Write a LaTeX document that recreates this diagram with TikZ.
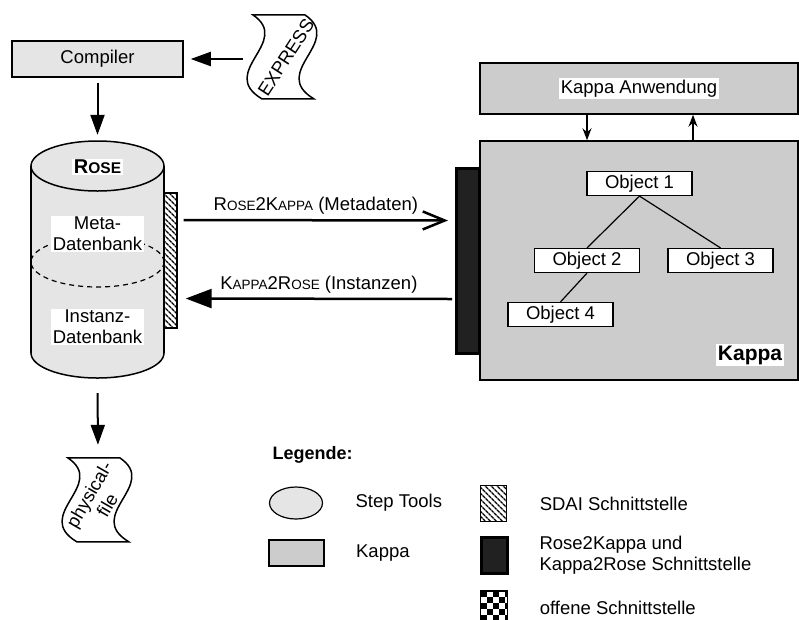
\documentclass[tikz,border=0pt]{standalone}
\usepackage{fontspec}
\setmainfont{Liberation Sans}
\usetikzlibrary{arrows.meta,shapes.geometric,positioning,patterns.meta}

\newcommand{\smallcap}[1]{{\fontsize{13.5}{14}\selectfont #1}}

\begin{document}
\begin{tikzpicture}[
  x=1pt, y=-1pt,
  font=\fontsize{18.5}{21}\selectfont,
  thinline/.style={line width=1.2pt},
  box/.style={rectangle, draw, line width=1.5pt, inner sep=0pt},
  compbox/.style={box, fill=gray!20},
  kbox/.style={box, fill=gray!40},
  hatch/.style={box, pattern={Lines[angle=-45, distance=4pt, line width=1.4pt]}},
  obj/.style={box, line width=1.2pt, fill=white, minimum width=105pt,
              minimum height=24pt},
  lbl/.style={fill=white, inner sep=1.5pt, align=center},
  cyl/.style={draw, line width=1.5pt, fill=gray!20},
  doc/.style={draw, line width=1.5pt, fill=white},
  arrow/.style={-{Triangle[length=20pt,width=14pt]}, line width=2pt},
  openarrow/.style={-{Straight Barb[length=22pt,width=18pt]}, line width=2.5pt},
  backarrow/.style={-{Triangle[length=26pt,width=19pt]}, line width=2.5pt},
  smallarrow/.style={-{Stealth[length=12pt,width=9pt,inset=4pt]}, thinline},
  wavedoc/.pic={
    \draw[doc] (0,0) -- (52,0) .. controls (92,27) and (16,57) .. (61,84)
      -- (9,84) .. controls (-36,57) and (40,27) .. cycle;
  }
]
\useasboundingbox (0,0) rectangle (799,619);

%% Compiler with EXPRESS input
\node[compbox, minimum width=171pt, minimum height=36pt] (comp) at (97.5,59) {Compiler};
\node[minimum width=70pt, minimum height=85pt, inner sep=0pt] (expr) at (283,57.5) {};
\pic at ([xshift=5pt]expr.north west) {wavedoc};
\node[rotate=57] at ([xshift=3pt]expr.center) {EXPRESS};
\draw[arrow, shorten <=5pt, shorten >=7pt] (expr.west |- comp.east) -- (comp.east);

%% ROSE database (cylinder)
\node[minimum width=133pt, minimum height=237pt, inner sep=0pt] (rose) at (97.5,259.5) {};
\filldraw[cyl] (97.5,353) ellipse [x radius=66.5, y radius=25];
\fill[gray!20] (31,166) rectangle (164,353);
\draw[line width=1.5pt] (31,166) -- (31,353) (164,166) -- (164,353);
\filldraw[cyl] (97.5,166) ellipse [x radius=66.5, y radius=25];
\draw[thinline, dash pattern=on 5pt off 4pt] (97.5,262) ellipse [x radius=66.5, y radius=25];

\node[lbl] at (97.5,167) {\textbf{\fontsize{20}{21}\selectfont R{\fontsize{15.5}{15}\selectfont OSE}}};
\node[lbl] (meta) at (97.5,234) {Meta-\\Datenbank};
\node[lbl] (inst) at (97.5,327) {Instanz-\\Datenbank};

\draw[arrow, shorten <=5pt, shorten >=6pt] (comp.south) -- (rose.north);

%% SDAI interface
\node[hatch, minimum width=13pt, minimum height=135pt] (sdai) at (170.5,260.5) {};

%% physical file output
\node[minimum width=70pt, minimum height=84pt, inner sep=0pt] (phys) at (98,500) {};
\pic at ([xshift=5pt]phys.north west) {wavedoc};
\node[rotate=60, align=center] at (phys.center) {physical-\\file};
\draw[arrow, shorten <=15pt, shorten >=13pt] (rose.south) -- (phys.north);

%% Kappa side
\node[kbox, minimum width=318pt, minimum height=51pt,
      label={[lbl]center:Kappa Anwendung}] (app) at (639,88.5) {};
\node[kbox, minimum width=318pt, minimum height=239pt] (kappa) at (639,260.5) {};
\node[lbl, font=\fontsize{21}{21}\selectfont\bfseries] at (750,355) {Kappa};

\draw[smallarrow] ([xshift=-52pt]app.south) -- ([xshift=-52pt]kappa.north);
\draw[smallarrow] ([xshift=54pt]kappa.north) -- ([xshift=54pt]app.south);

\node[box, fill=black!87, line width=3pt, minimum width=23pt, minimum height=185pt] (kbar) at (468,261) {};

%% object tree
\node[obj] (o1) at (639.5,183.5) {Object 1};
\node[obj] (o2) at (587,260.5) {Object 2};
\node[obj] (o3) at (720.5,260.5) {Object 3};
\node[obj] (o4) at (560.5,314.5) {Object 4};
\draw[thinline] (o1.south) -- (o2.north) (o1.south) -- (o3.north)
  (o2.south) -- (o4.north);

%% Rose <-> Kappa transfer
\draw[openarrow] ([xshift=6pt,yshift=40.5pt]sdai.east) -- ([xshift=-7pt,yshift=40.5pt]kbar.west)
  node[midway, above=1pt] {R\smallcap{OSE}2K\smallcap{APPA} (Metadaten)};
\draw[backarrow] ([xshift=-3pt,yshift=-38pt]kbar.west) -- ([xshift=8pt,yshift=-38pt]sdai.east)
  node[midway, above=1pt] {K\smallcap{APPA}2R\smallcap{OSE} (Instanzen)};

%% Legende
\node[anchor=west, font=\fontsize{18}{21}\selectfont\bfseries] (leg) at (269,455) {Legende:};
\node[ellipse, draw, thinline, fill=gray!20, minimum width=53pt, minimum height=32pt] (lstep) at (296,503) {};
\node[kbox, line width=1.2pt, minimum width=55pt, minimum height=26pt] (lkappa) at (296.5,553) {};
\node[right=29pt of lstep.east, anchor=west] {Step Tools};
\node[right=28pt of lkappa.east, anchor=west] {Kappa};

\node[hatch, minimum width=26pt, minimum height=36pt] (lsdai) at (493.5,503.5) {};
\node[box, fill=black!87, line width=3pt, minimum width=26pt, minimum height=36pt] (lbar) at (494.5,555.5) {};
\begin{scope}
  \clip (481,591) rectangle (507,619);
  \foreach \i in {0,2,4} \foreach \j in {0,2,4} {
    \fill (481+6*\i,591+6*\j) rectangle ++(6,6);
    \fill (487+6*\i,597+6*\j) rectangle ++(6,6);
  }
\end{scope}
\node[box, minimum width=27pt, minimum height=40pt, anchor=north] (lopen) at (494,590) {};
\node[right=29pt of lsdai.east, anchor=west] {SDAI Schnittstelle};
\node[right=27pt of lbar.east, anchor=west, align=left] {Rose2Kappa und\\Kappa2Rose Schnittstelle};
\node[right=28pt of lopen.north east, anchor=west, yshift=-18pt] {offene Schnittstelle};

\end{tikzpicture}
\end{document}
